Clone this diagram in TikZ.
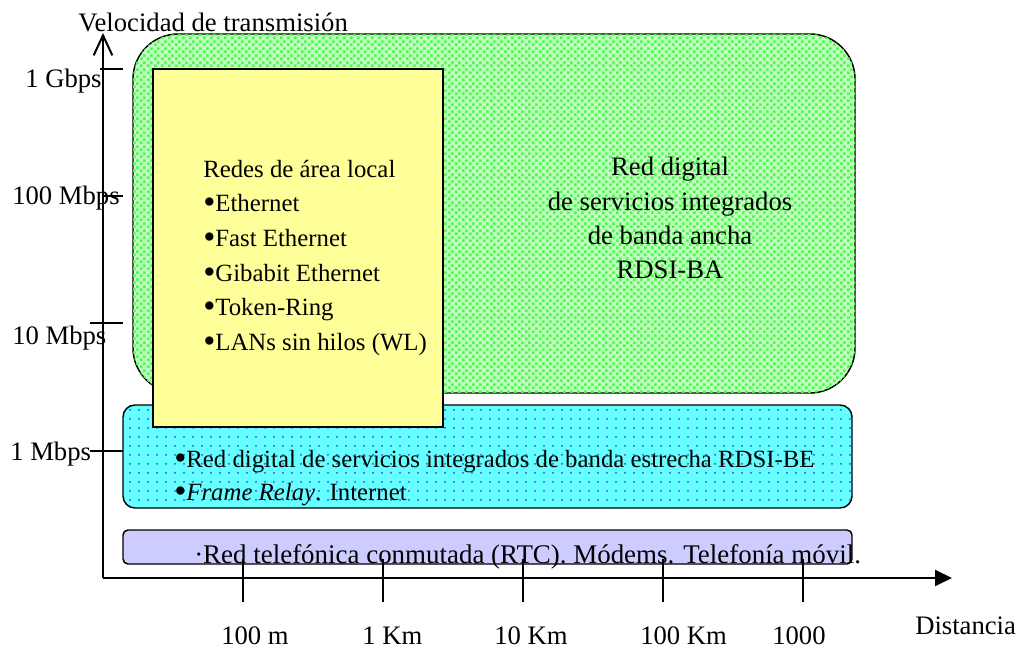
\documentclass[tikz,border=0pt]{standalone}
\usepackage{fontspec}
\setmainfont{Liberation Serif}
\usetikzlibrary{arrows.meta,patterns.meta}

\definecolor{bagreen}{RGB}{190,255,190}
\definecolor{bagreendot}{RGB}{75,250,75}
\definecolor{becyan}{RGB}{102,255,255}
\definecolor{becyandot}{RGB}{60,60,240}
\definecolor{lanyellow}{RGB}{255,255,153}
\definecolor{rtclilac}{RGB}{204,204,255}

% larger list bullet
\newcommand{\bigbul}{\raisebox{-1.5pt}{\fontsize{26}{26}\selectfont •}}

% staggered small squares for the broadband area
\tikzdeclarepattern{
  name=squaregrid,
  type=uncolored,
  bottom left={(0pt,0pt)},
  top right={(5.25pt,5.25pt)},
  tile size={(5.25pt,5.25pt)},
  code={
    \fill (0pt,0pt) rectangle (2.2pt,2.2pt);
    \fill (2.625pt,2.625pt) rectangle (4.825pt,4.825pt);
  }
}
% regular grid of fine dots for the narrowband area
\tikzdeclarepattern{
  name=finedots,
  type=uncolored,
  bottom left={(0pt,0pt)},
  top right={(6.75pt,6.75pt)},
  tile size={(6.75pt,6.75pt)},
  code={
    \fill (3.375pt,3.375pt) circle (0.85pt);
  }
}

\begin{document}
\begin{tikzpicture}[x=0.75pt,y=-0.75pt,
  txt/.style={font=\fontsize{20}{24}\selectfont, inner sep=0pt, anchor=base west},
  stxt/.style={font=\fontsize{18.6}{22}\selectfont, inner sep=0pt, anchor=base west},
  ctxt/.style={font=\fontsize{20}{24}\selectfont, inner sep=0pt, anchor=base},
  box/.style={draw=black, line width=1.1pt},
  axisline/.style={line width=1.5pt},
  tick/.style={line width=1.1pt}]

\useasboundingbox (0,0) rectangle (1024,648);

% areas
\path[box, fill=bagreen, rounded corners=33.75pt,
      postaction={pattern=squaregrid, pattern color=bagreendot}]
  (133,34) rectangle (855,393);
\path[box, fill=becyan, rounded corners=9pt,
      postaction={pattern=finedots, pattern color=becyandot}]
  (123,405) rectangle (852,508);
\path[box, fill=lanyellow] (153,69) rectangle (443,427);
\path[box, fill=rtclilac, rounded corners=3.75pt] (123,530) rectangle (852,564);

% axes
\coordinate (origin) at (103,578);
\coordinate (ytop) at (103,33);
\coordinate (xend) at (952,578);
\draw[axisline, -{Straight Barb[length=15pt,width=14pt,line width=1.5pt]}] (origin) -- (ytop);
\draw[axisline, -{Triangle[length=12.75pt,width=12pt]}] (origin) -- (xend);

% rate ticks
\draw[tick] (100,69) -- (123,69);
\draw[tick] (103,196) -- (123,196);
\draw[tick] (90,323) -- (123,323);
\draw[tick] (90,451) -- (123,451);

% distance ticks
\foreach \tx in {243,383,523,663,803}
  \draw[tick] (\tx,559) -- (\tx,602);

% axis titles and scale labels
\node[txt] (ytitle) at (78,32) {Velocidad de transmisión};
\node[txt] (xtitle) at (915,634) {Distancia};
\node[txt] (r1g) at (25,88) {1 Gbps};
\node[txt] (r100m) at (12,205) {100 Mbps};
\node[txt] (r10m) at (12,345) {10 Mbps};
\node[txt] (r1m) at (10,460) {1 Mbps};
\node[txt, text depth=0pt] (d100m) at (221,644) {100 m};
\node[txt, text depth=0pt] (d1k) at (362,644) {1 Km};
\node[txt, text depth=0pt] (d10k) at (494,644) {10 Km};
\node[txt, text depth=0pt] (d100k) at (640,644) {100 Km};
\node[txt, text depth=0pt] (d1000) at (772,644) {1000};

% broadband ISDN
\node[ctxt] (ba1) at (670,176) {Red digital};
\node[ctxt] (ba2) at (670,211) {de servicios integrados};
\node[ctxt] (ba3) at (670,245) {de banda ancha};
\node[ctxt] (ba4) at (670,279) {RDSI-BA};

% local area networks
\node[stxt] (lan0) at (203,178) {Redes de área local};
\node[stxt] (lan1) at (203,212) {\bigbul Ethernet};
\node[stxt] (lan2) at (203,247) {\bigbul Fast Ethernet};
\node[stxt] (lan3) at (203,282) {\bigbul Gibabit Ethernet};
\node[stxt] (lan4) at (203,316) {\bigbul Token-Ring};
\node[stxt] (lan5) at (203,351) {\bigbul LANs sin hilos (WL)};

% narrowband ISDN
\node[stxt] (be1) at (174,467) {\bigbul Red digital de servicios integrados de banda estrecha RDSI-BE};
\node[stxt] (be2) at (174,500) {\bigbul\textit{Frame Relay}. Internet};

% switched telephone network
\node[txt, font=\fontsize{20.2}{24}\selectfont] (rtc) at (194,563) {·Red telefónica conmutada (RTC). Módems. Telefonía móvil.};

\end{tikzpicture}
\end{document}
